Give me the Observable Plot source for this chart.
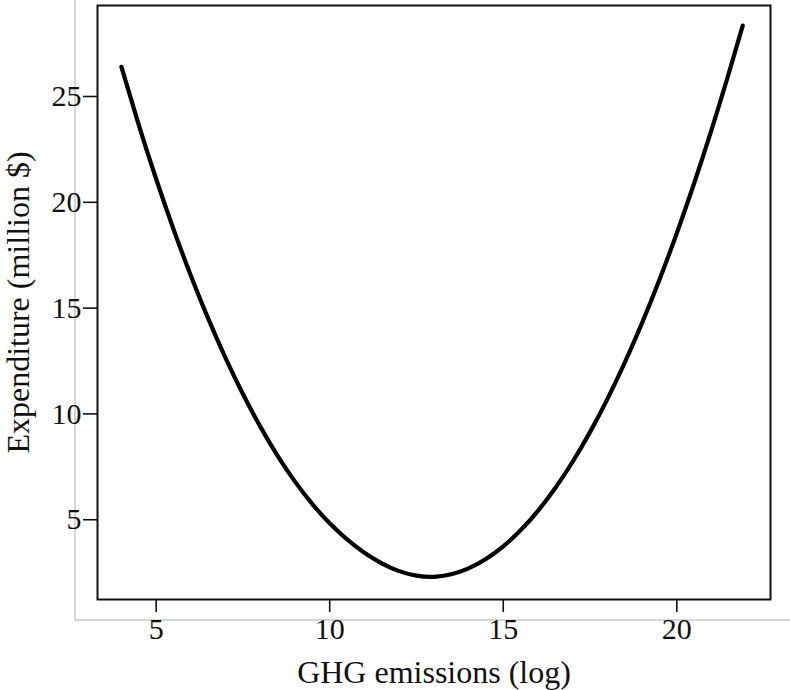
<!DOCTYPE html>
<html>
<head>
<meta charset="utf-8">
<script src="https://cdn.jsdelivr.net/npm/d3@7"></script>
<script src="https://cdn.jsdelivr.net/npm/@observablehq/plot@0.6"></script>
<style>
  html, body { margin: 0; padding: 0; background: #fff; }
  #chart svg { display: block; }
</style>
</head>
<body>
<div id="chart"></div>
<script>
// Values
const ghg = [4, 4.5, 5, 5.5, 6, 6.5, 7, 7.5, 8, 8.5, 9, 9.5, 10, 10.5, 11, 11.5, 12, 12.5, 13, 13.5, 14, 14.5, 15, 15.5, 16, 16.5, 17, 17.5, 18, 18.5, 19, 19.5, 20, 20.5, 21, 21.5, 21.9];
const expenditure = [26.4, 23.65, 21.1, 18.73, 16.53, 14.5, 12.64, 10.94, 9.4, 8.02, 6.8, 5.74, 4.83, 4.07, 3.44, 2.94, 2.57, 2.36, 2.3, 2.42, 2.7, 3.14, 3.74, 4.5, 5.42, 6.5, 7.74, 9.14, 10.7, 12.42, 14.3, 16.34, 18.54, 20.9, 23.42, 26.1, 28.35];
const xTicks = [5, 10, 15, 20];
const yTicks = [5, 10, 15, 20, 25];
const xLabel = "GHG emissions (log)";
const yLabel = "Expenditure (million $)";

const data = ghg.map((x, i) => ({x, y: expenditure[i]}));
const serif = "Liberation Serif";

// light grey outer L-shaped axis lines (decoration around the frame)
function outerAxes(index, scales, values, dim) {
  const x0 = dim.marginLeft - 22;
  const y1 = dim.height - dim.marginBottom + 21;
  return d3.create("svg:path")
    .attr("d", `M${x0},0V${y1}H${dim.width}`)
    .attr("fill", "none").attr("stroke", "#c9c9c9").attr("stroke-width", 1.5).node();
}

const chart = Plot.plot({
  width: 790, height: 690,
  marginLeft: 97, marginRight: 20, marginTop: 5, marginBottom: 91,
  style: {fontFamily: serif, fontSize: "30px", color: "#111", background: "#fff"},
  x: {domain: [3.31, 22.7]},
  y: {domain: [1.23, 29.3]},
  marks: [
    outerAxes,
    Plot.frame({stroke: "#111", strokeWidth: 2}),
    Plot.axisX({ticks: xTicks, tickSize: 13, tickPadding: 5, strokeWidth: 1.6, fontSize: 30, label: null, fontFamily: serif}),
    Plot.axisY({ticks: yTicks, tickSize: 14, tickPadding: 2, strokeWidth: 1.6, fontSize: 30, label: null, fontFamily: serif}),
    Plot.text([xLabel], {frameAnchor: "bottom", dy: 73, text: d => d, fontSize: 32, lineAnchor: "middle", fontFamily: serif}),
    Plot.text([yLabel], {frameAnchor: "left", dx: -79, rotate: -90, text: d => d, fontSize: 32, lineAnchor: "middle", textAnchor: "middle", fontFamily: serif}),
    Plot.line(data, {x: "x", y: "y", stroke: "#000", strokeWidth: 4.2, curve: "natural"})
  ]
});
document.getElementById("chart").append(chart);
</script>
</body>
</html>
